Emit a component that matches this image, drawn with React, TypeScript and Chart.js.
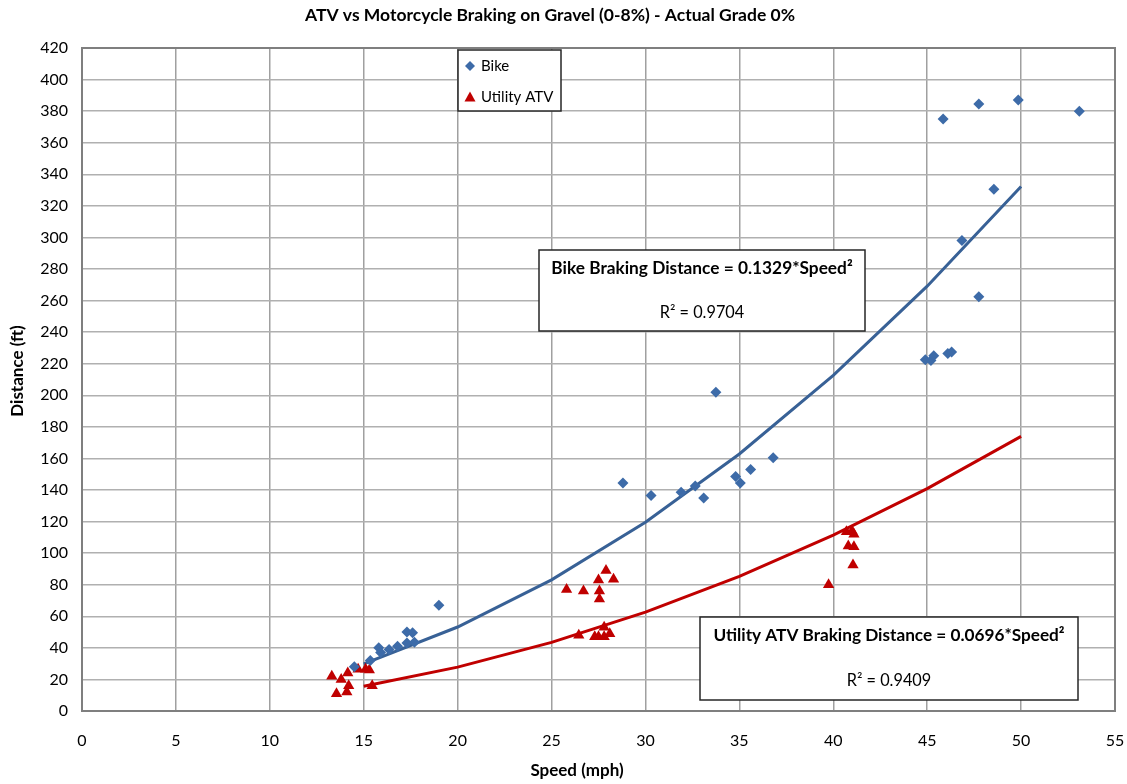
import React, { useEffect, useRef } from "react";
import { Chart, registerables } from "chart.js";

Chart.register(...registerables);

const FONT = "Lato, 'Noto Sans', sans-serif";

const TITLE = "ATV vs Motorcycle Braking on Gravel (0-8%) - Actual Grade 0%";
const X_TITLE = "Speed (mph)";
const Y_TITLE = "Distance (ft)";
const BIKE_LABEL = "Bike";
const ATV_LABEL = "Utility ATV";
const BIKE_EQ = "Bike Braking Distance = 0.1329*Speed²";
const BIKE_R2 = "R² = 0.9704";
const ATV_EQ = "Utility ATV Braking Distance = 0.0696*Speed²";
const ATV_R2 = "R² = 0.9409";

const bikeSpeed = [14.5, 15.35, 15.8, 15.9, 16.35, 16.8, 17.3, 17.6, 17.3, 17.7, 19.0, 28.8, 30.3, 31.9, 32.65, 33.1, 33.75, 34.8, 35.05, 35.6, 36.8, 44.9, 45.2, 45.35, 46.1, 46.3, 45.85, 46.85, 47.75, 47.75, 48.55, 49.85, 53.1];
const bikeDist = [28, 32, 40, 37, 39, 41, 50, 49.5, 43, 43.5, 67, 144.5, 136.5, 138.5, 142.5, 135, 202, 148.5, 144.5, 153, 160.5, 222.5, 222, 225, 226.5, 227.5, 375, 298, 262.5, 384.5, 330.5, 387, 380];

const atvSpeed = [13.3, 13.55, 13.8, 14.15, 14.2, 14.1, 14.7, 15.1, 15.3, 15.45, 25.8, 26.7, 27.5, 27.9, 28.3, 27.55, 27.55, 26.45, 27.3, 27.5, 27.8, 27.8, 28.1, 39.75, 40.7, 41.0, 41.1, 40.8, 41.1, 41.05];
const atvDist = [22, 11, 20, 24, 16, 12, 26.5, 26.5, 26, 16, 77, 76, 83, 89, 83.5, 76, 71, 48, 47, 47, 53, 47, 49, 80, 113.5, 114, 112, 104.5, 104, 92.5];

const trendSpeed = [15, 20, 25, 30, 35, 40, 45, 50];
const bikeTrend = [29.9, 53.2, 83.1, 119.6, 162.8, 212.6, 269.1, 332.3];
const atvTrend = [15.7, 27.8, 43.5, 62.6, 85.3, 111.4, 140.9, 174.0];

const xTicks = [0, 5, 10, 15, 20, 25, 30, 35, 40, 45, 50, 55];
const yTicks = [0, 20, 40, 60, 80, 100, 120, 140, 160, 180, 200, 220, 240, 260, 280, 300, 320, 340, 360, 380, 400, 420];

const BLUE = "#3D6BA8";
const BLUE_LINE = "#386196";
const RED = "#C00000";

const pts = (xs: number[], ys: number[]) => xs.map((x, i) => ({ x, y: ys[i] }));

function drawDiamond(ctx: CanvasRenderingContext2D, x: number, y: number, r: number) {
  ctx.beginPath();
  ctx.moveTo(x, y - r);
  ctx.lineTo(x + r, y);
  ctx.lineTo(x, y + r);
  ctx.lineTo(x - r, y);
  ctx.closePath();
  ctx.fillStyle = BLUE;
  ctx.fill();
}

function drawTriangle(ctx: CanvasRenderingContext2D, x: number, y: number, r: number) {
  ctx.beginPath();
  ctx.moveTo(x, y - r);
  ctx.lineTo(x + r, y + r * 0.8);
  ctx.lineTo(x - r, y + r * 0.8);
  ctx.closePath();
  ctx.fillStyle = RED;
  ctx.fill();
}

function box(ctx: CanvasRenderingContext2D, x: number, y: number, w: number, h: number) {
  ctx.fillStyle = "#fff";
  ctx.fillRect(x, y, w, h);
  ctx.strokeStyle = "#262626";
  ctx.lineWidth = 1.5;
  ctx.strokeRect(x, y, w, h);
}

const overlay = {
  id: "overlay",
  beforeDatasetsDraw(chart: any) {
    const { ctx, chartArea: a } = chart;
    ctx.save();
    ctx.strokeStyle = "#7f7f7f";
    ctx.lineWidth = 2;
    ctx.strokeRect(a.left, a.top, a.right - a.left, a.bottom - a.top);
    ctx.restore();
  },
  afterDatasetsDraw(chart: any) {
    const { ctx } = chart;
    ctx.save();
    ctx.textBaseline = "middle";

    // title
    ctx.fillStyle = "#000";
    ctx.textAlign = "center";
    ctx.font = `bold 17.5px ${FONT}`;
    ctx.fillText(TITLE, 550, 15);

    // legend
    box(ctx, 458, 50, 103, 61);
    drawDiamond(ctx, 470, 66, 5);
    drawTriangle(ctx, 470, 97, 5.5);
    ctx.fillStyle = "#000";
    ctx.font = `15px ${FONT}`;
    ctx.textAlign = "left";
    ctx.fillText(BIKE_LABEL, 481, 66);
    ctx.fillText(ATV_LABEL, 481, 97);

    // equation boxes
    box(ctx, 539, 250, 326, 81);
    ctx.fillStyle = "#000";
    ctx.textAlign = "center";
    ctx.font = `bold 17.3px ${FONT}`;
    ctx.fillText(BIKE_EQ, 702, 268);
    ctx.font = `16.3px ${FONT}`;
    ctx.fillText(BIKE_R2, 702, 313);

    box(ctx, 700, 617, 378, 83);
    ctx.fillStyle = "#000";
    ctx.font = `bold 17.2px ${FONT}`;
    ctx.fillText(ATV_EQ, 889, 635);
    ctx.font = `16.3px ${FONT}`;
    ctx.fillText(ATV_R2, 889, 681);

    // axis titles
    ctx.font = `bold 17px ${FONT}`;
    ctx.fillText(X_TITLE, 577, 771);
    ctx.translate(18, 371);
    ctx.rotate(-Math.PI / 2);
    ctx.fillText(Y_TITLE, 0, 0);
    ctx.restore();
  },
};

export default function App() {
  const ref = useRef<HTMLCanvasElement>(null);
  useEffect(() => {
    const chart = new Chart(ref.current!, {
      type: "scatter",
      data: {
        datasets: [
          {
            label: BIKE_LABEL,
            data: pts(bikeSpeed, bikeDist),
            pointStyle: "rectRot",
            pointRadius: 5.5,
            backgroundColor: BLUE,
            borderColor: BLUE,
            borderWidth: 0,
            order: 1,
          },
          {
            label: ATV_LABEL,
            data: pts(atvSpeed, atvDist),
            pointStyle: "triangle",
            pointRadius: 6.5,
            backgroundColor: RED,
            borderColor: RED,
            borderWidth: 0,
            order: 2,
          },
          {
            label: "Bike trend",
            data: pts(trendSpeed, bikeTrend),
            showLine: true,
            pointRadius: 0,
            borderColor: BLUE_LINE,
            borderWidth: 3,
            order: 3,
          },
          {
            label: "ATV trend",
            data: pts(trendSpeed, atvTrend),
            showLine: true,
            pointRadius: 0,
            borderColor: RED,
            borderWidth: 3,
            order: 4,
          },
        ] as any,
      },
      options: {
        responsive: false,
        animation: false,
        devicePixelRatio: 1,
        layout: { padding: { left: 0, right: 12, top: 48, bottom: 0 } },
        plugins: {
          legend: { display: false },
          tooltip: { enabled: false },
          title: { display: false },
        },
        scales: {
          x: {
            type: "linear",
            min: 0,
            max: 55,
            afterBuildTicks: (s: any) => {
              s.ticks = xTicks.map((v) => ({ value: v }));
            },
            ticks: { color: "#000", padding: 20, font: { family: FONT, size: 16 } },
            grid: { color: "#a0a0a0", lineWidth: 1.5, drawTicks: false },
            border: { display: false },
            afterFit: (s: any) => {
              s.height = 73;
              s.paddingLeft = 0;
              s.paddingRight = 0;
            },
          },
          y: {
            type: "linear",
            min: 0,
            max: 420,
            afterBuildTicks: (s: any) => {
              s.ticks = yTicks.map((v) => ({ value: v }));
            },
            ticks: { color: "#000", padding: 14, font: { family: FONT, size: 16 } },
            grid: { color: "#b0b0b0", lineWidth: 1.5, drawTicks: false },
            border: { display: false },
            afterFit: (s: any) => {
              s.width = 82;
              s.paddingTop = 0;
              s.paddingBottom = 0;
            },
          },
        },
      } as any,
      plugins: [overlay],
    });
    return () => chart.destroy();
  }, []);
  return (
    <div style={{ position: "fixed", left: 0, top: 0, width: 1127, height: 784, background: "#fff" }}>
      <canvas ref={ref} width={1127} height={784} style={{ display: "block" }} />
    </div>
  );
}
